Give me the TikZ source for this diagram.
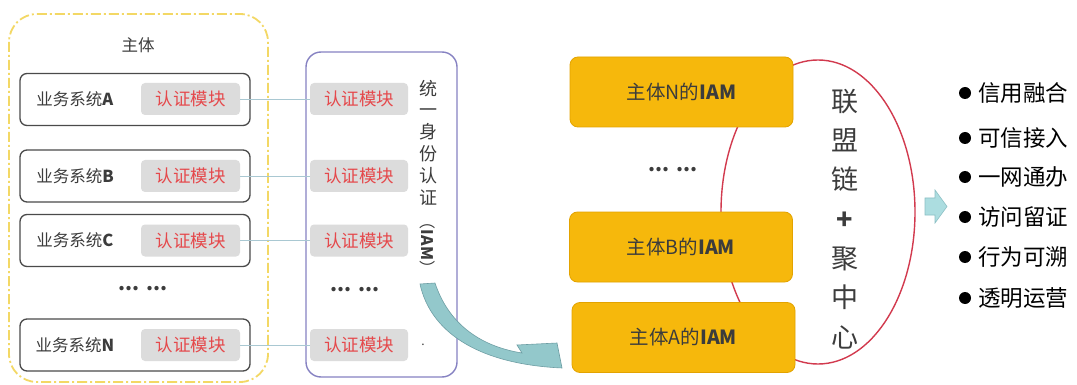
\documentclass[tikz,border=0pt]{standalone}
\usepackage{fontspec}
\setmainfont{Noto Sans CJK SC}
\definecolor{boxgray}{HTML}{4A4A4A}
\definecolor{modgray}{HTML}{DCDCDC}
\definecolor{modred}{HTML}{E5484B}
\definecolor{txtgray}{HTML}{3C3C3C}
\definecolor{connblue}{HTML}{A9C8D2}
\definecolor{iampurple}{HTML}{8682C2}
\definecolor{yelldash}{HTML}{F3D865}
\definecolor{orfill}{HTML}{F6B80C}
\definecolor{ordraw}{HTML}{E3A300}
\definecolor{ellred}{HTML}{D23A4E}
\definecolor{tealfill}{HTML}{93C8CB}
\definecolor{tealdraw}{HTML}{6E9EA4}
\definecolor{smallfill}{HTML}{ACDDE0}
\definecolor{smalldraw}{HTML}{8BBFC4}
\begin{document}
\begin{tikzpicture}[x=1pt,y=-1pt,
  sysbox/.style={draw=boxgray, line width=1.3pt, rounded corners=7pt, fill=white, minimum width=230pt, minimum height=52pt, inner sep=0pt},
  syslabel/.style={text=txtgray, font=\fontsize{16.5}{16.5}\selectfont, inner sep=0pt},
  modbox/.style={fill=modgray, rounded corners=4pt, text=modred, font=\fontsize{17.5}{17.5}\selectfont, inner sep=0pt, minimum width=99pt, minimum height=32pt},
  conn/.style={draw=connblue, line width=0.8pt},
  orbox/.style={fill=orfill, draw=ordraw, line width=0.8pt, rounded corners=8pt, minimum width=223pt, minimum height=70pt, inner sep=0pt, text=txtgray, font=\fontsize{19.5}{19.5}\selectfont},
  dotsnode/.style={font=\bfseries\fontsize{20}{20}\selectfont, text=txtgray, inner sep=0pt},
  listitem/.style={anchor=west, inner sep=0pt, font=\fontsize{22.5}{22.5}\selectfont, text=black},
  bulletdot/.style={circle, fill=black, inner sep=0pt, minimum size=12pt}
]
\useasboundingbox (0,0) rectangle (1077,385);
\fill[white] (0,0) rectangle (1077,385);

% left container
\draw[draw=yelldash, line width=1.8pt, rounded corners=28pt, dash pattern=on 10pt off 3pt on 2pt off 3pt] (9,14) rectangle (268,382);
\node[text=txtgray, font=\fontsize{16.5}{16.5}\selectfont, inner sep=0pt] (zhuti) at (138,45) {主体};

% business systems
\node[sysbox] (sa) at (135,99.5) {};
\node[sysbox] (sb) at (135,176) {};
\node[sysbox] (sc) at (135,240.5) {};
\node[sysbox] (sn) at (135,345) {};
\node[syslabel] (la) at (75,99.5) {业务系统\textbf{A}};
\node[syslabel] (lb) at (75,176) {业务系统\textbf{B}};
\node[syslabel] (lc) at (75,240.5) {业务系统\textbf{C}};
\node[syslabel] (ln) at (75,345) {业务系统\textbf{N}};
\node[modbox] (ma) at (190.5,99) {认证模块};
\node[modbox] (mb) at (190.5,176) {认证模块};
\node[modbox] (mc) at (190.5,240.5) {认证模块};
\node[modbox] (mn) at (190.5,345) {认证模块};
\node[dotsnode] (ldots) at (143,289) {...\hspace{7pt}...};

% IAM container
\draw[draw=iampurple, line width=1.4pt, rounded corners=15pt] (306,52) rectangle (457,377);
\node[modbox, minimum width=98pt] (ia) at (359,99) {认证模块};
\node[modbox, minimum width=98pt] (ib) at (359,176) {认证模块};
\node[modbox, minimum width=98pt] (ic) at (359,240.5) {认证模块};
\node[modbox, minimum width=98pt] (in) at (359,345) {认证模块};
\node[dotsnode] (idots) at (355,290) {...\hspace{7pt}...};
\node[inner sep=0pt, align=center, text=txtgray, font=\fontsize{18}{21.8}\selectfont] (iamv) at (428,142.5) {统\\一\\身\\份\\认\\证};
\node[inner sep=0pt, rotate=-90, text=txtgray, font=\fontsize{16}{16}\selectfont] (iamp) at (428,245) {（\textbf{IAM}）};
\node[inner sep=0pt, text=txtgray, font=\fontsize{12}{12}\selectfont] (dot) at (423,345) {.};

% connectors
\draw[conn] (ma.east) -- (ia.west);
\draw[conn] (mb.east) -- (ib.west);
\draw[conn] (mc.east) -- (ic.west);
\draw[conn] (mn.east) -- (in.west);

% curved arrow
\filldraw[fill=tealfill, draw=tealdraw, line width=0.6pt]
  (420,284) .. controls (430,330) and (475,364) .. (562,368)
  -- (557,343) -- (517,345) -- (522,353)
  .. controls (478,346) and (448,322) .. (435,283) -- cycle;

% federation ellipse
\draw[draw=ellred, line width=1.4pt] (818,212) ellipse [x radius=97pt, y radius=152pt];

% IAM boxes
\node[orbox] (on) at (681.5,92) {主体N的\textbf{IAM}};
\node[orbox] (ob) at (681,247) {主体B的\textbf{IAM}};
\node[orbox] (oa) at (683.5,337.5) {主体A的\textbf{IAM}};
\node[dotsnode] (odots) at (673,170) {...\hspace{7pt}...};

\node[inner sep=0pt, align=center, text=txtgray, font=\fontsize{27}{39.3}\selectfont] (lmv) at (845,219) {联\\盟\\链\\\textbf{+}\\聚\\中\\心};

% small arrow
\filldraw[fill=smallfill, draw=smalldraw, line width=0.6pt]
  (925,198) -- (935,198) -- (935,190) -- (947,206.5) -- (935,223) -- (935,215) -- (925,215) -- cycle;

% bullet list
\node[bulletdot] (b1) at (965,93) {};
\node[bulletdot] (b2) at (965,138) {};
\node[bulletdot] (b3) at (965,177) {};
\node[bulletdot] (b4) at (965,217) {};
\node[bulletdot] (b5) at (965,257) {};
\node[bulletdot] (b6) at (965,298) {};
\node[listitem] (l1) at (978,93) {信用融合};
\node[listitem] (l2) at (978,138) {可信接入};
\node[listitem] (l3) at (978,177) {一网通办};
\node[listitem] (l4) at (978,217) {访问留证};
\node[listitem] (l5) at (978,257) {行为可溯};
\node[listitem] (l6) at (978,298) {透明运营};
\end{tikzpicture}
\end{document}
